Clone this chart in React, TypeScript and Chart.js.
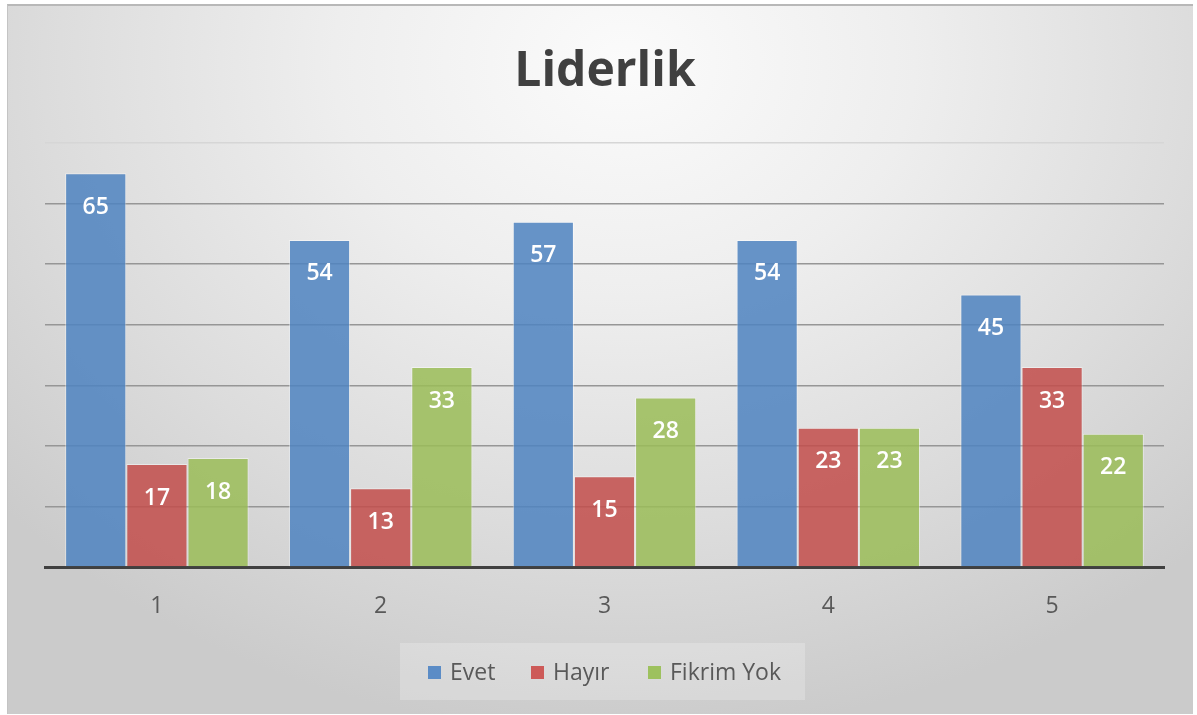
import React, { useEffect, useRef } from "react";
import { Chart, registerables } from "chart.js";

Chart.register(...registerables);

const categories = ["1", "2", "3", "4", "5"];
const evet = [65, 54, 57, 54, 45];
const hayir = [17, 13, 15, 23, 33];
const fikrimYok = [18, 33, 28, 23, 22];
const seriesNames = ["Evet", "Hayır", "Fikrim Yok"];
const seriesColors = ["rgba(79,131,192,0.86)", "rgba(194,78,76,0.86)", "rgba(155,189,88,0.86)"];
const legendColors = ["#5b8cc6", "#cd5a58", "#9dc15e"];
const titleText = "Liderlik";
const yMax = 70;
const yStep = 10;

const W = 1197;
const H = 715;

export default function App() {
  const ref = useRef<HTMLCanvasElement | null>(null);

  useEffect(() => {
    if (!ref.current) return;
    const labelPlugin = {
      id: "decor",
      afterDatasetsDraw(chart: any) {
        const ctx = chart.ctx;
        ctx.save();
        // data labels
        ctx.fillStyle = "#ffffff";
        ctx.font = '600 23px "Open Sans"';
        ctx.textAlign = "center";
        ctx.textBaseline = "middle";
        chart.data.datasets.forEach((ds: any, i: number) => {
          const meta = chart.getDatasetMeta(i);
          meta.data.forEach((el: any, j: number) => {
            ctx.fillText(String(ds.data[j]), el.x, el.y + 34);
          });
        });
        // title
        ctx.fillStyle = "#404040";
        ctx.font = 'bold 48px "Open Sans"';
        ctx.textBaseline = "alphabetic";
        ctx.fillText(titleText, 605, 86);
        // legend
        ctx.fillStyle = "rgba(255,255,255,0.22)";
        ctx.fillRect(400, 643, 405, 57);
        ctx.font = '23px "Open Sans"';
        ctx.textAlign = "left";
        ctx.textBaseline = "middle";
        const sqX = [428, 531, 648];
        chart.data.datasets.forEach((ds: any, i: number) => {
          ctx.fillStyle = legendColors[i];
          ctx.fillRect(sqX[i], 666, 13, 13);
          ctx.fillStyle = "#595959";
          ctx.fillText(ds.label, sqX[i] + 22, 673);
        });
        ctx.restore();
      },
    };

    const chart = new Chart(ref.current, {
      type: "bar",
      data: {
        labels: categories,
        datasets: [evet, hayir, fikrimYok].map((d, i) => ({
          label: seriesNames[i],
          data: d,
          backgroundColor: seriesColors[i],
          borderColor: "rgba(255,255,255,0.45)",
          borderWidth: 1,
          categoryPercentage: 0.82,
          barPercentage: 1.0,
        })),
      },
      options: {
        animation: false,
        responsive: false,
        maintainAspectRatio: false,
        layout: { padding: { left: 45, right: 33, top: 143, bottom: 88 } },
        plugins: {
          legend: { display: false },
          title: { display: false },
          tooltip: { enabled: false },
        },
        scales: {
          x: {
            grid: { display: false, drawTicks: false },
            border: { display: true, color: "#404040", width: 3 },
            ticks: {
              color: "#595959",
              font: { family: "Open Sans", size: 23 },
              padding: 26,
            },
            afterFit: (s: any) => {
              s.height = 60;
            },
          },
          y: {
            min: 0,
            max: yMax,
            ticks: { display: false, stepSize: yStep },
            border: { display: false },
            grid: {
              drawTicks: false,
              lineWidth: 1.5,
              color: (c: any) =>
                c.tick && c.tick.value === yMax ? "#d6d6d6" : c.tick && c.tick.value === 0 ? "rgba(0,0,0,0)" : "#969696",
            },
            afterFit: (s: any) => {
              s.width = 0;
            },
          },
        },
      },
      plugins: [labelPlugin],
    });
    return () => chart.destroy();
  }, []);

  return (
    <div style={{ position: "absolute", left: 0, top: 0, width: W, height: H, background: "#ffffff" }}>
      <div
        style={{
          position: "absolute",
          left: 7,
          top: 4,
          width: 1185,
          height: 708,
          borderTop: "2px solid #b8b8b8",
          borderLeft: "1px solid #c4c4c4",
          background:
            "radial-gradient(ellipse 70% 95% at 52% 8%, #fbfbfb 0%, #eeeeee 35%, #dcdcdc 70%, #cbcbcb 100%)",
        }}
      />
      <canvas ref={ref} width={W} height={H} style={{ position: "absolute", left: 0, top: 0, width: W, height: H }} />
    </div>
  );
}
